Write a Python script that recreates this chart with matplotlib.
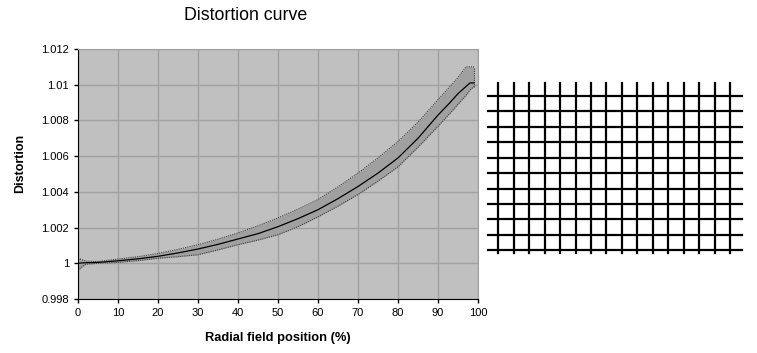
import numpy as np
import matplotlib.pyplot as plt

plt.rcParams['font.family'] = ['Liberation Sans', 'DejaVu Sans']

# Distortion curve data
radial_pos = [0, 1, 2, 5, 10, 15, 20, 25, 30, 35, 40, 45, 50, 55, 60, 65,
              70, 75, 80, 85, 90, 93, 95, 97, 98, 99]
distortion = [1.0000, 1.00002, 1.00003, 1.00005, 1.00014, 1.00025, 1.00039,
              1.00058, 1.0008, 1.00106, 1.00136, 1.00166, 1.00205, 1.0025,
              1.0030, 1.00362, 1.0043, 1.00505, 1.0059, 1.0070, 1.0083,
              1.0090, 1.0095, 1.0099, 1.0101, 1.0101]
upper = [1.0003, 1.0002, 1.00012, 1.0001, 1.00024, 1.00037, 1.00055, 1.00078,
         1.00104, 1.00135, 1.0017, 1.0021, 1.00254, 1.00303, 1.00357,
         1.00428, 1.00505, 1.0059, 1.00682, 1.0079, 1.00916, 1.0099, 1.0104,
         1.0110, 1.0110, 1.0110]
lower = [0.9996, 0.9998, 0.99995, 1.0000, 1.00005, 1.00015, 1.00028, 1.00037,
         1.00048, 1.00075, 1.00104, 1.0013, 1.0016, 1.00205, 1.0026,
         1.0032, 1.00385, 1.0046, 1.0054, 1.0065, 1.00767, 1.0084, 1.0089,
         1.0094, 1.0097, 1.0099]

x_ticks = [0, 10, 20, 30, 40, 50, 60, 70, 80, 90, 100]
y_ticks = [0.998, 1, 1.002, 1.004, 1.006, 1.008, 1.01, 1.012]

# test grid pattern on the right
grid_cols = 16
grid_rows = 11

fig = plt.figure(figsize=(7.57, 3.53), dpi=100)

ax = fig.add_axes([78/757, 54/353, 400/757, 250/353])
ax.set_facecolor('#c0c0c0')
ax.fill_between(radial_pos, lower, upper, color='#a0a0a0', lw=0)
ax.plot(radial_pos, upper, color='#404040', lw=0.8, ls=(0, (1, 1)))
ax.plot(radial_pos, lower, color='#404040', lw=0.8, ls=(0, (1, 1)))
ax.plot([radial_pos[-1], radial_pos[-1]], [lower[-1], upper[-1]],
        color='#404040', lw=0.8, ls=(0, (1, 1)))
ax.plot(radial_pos, distortion, color='black', lw=0.9)

ax.set_xlim(0, 100)
ax.set_ylim(0.998, 1.012)
ax.set_xticks(x_ticks)
ax.set_yticks(y_ticks)
ax.set_yticklabels([f'{v:g}' for v in y_ticks])
ax.grid(True, color='#a0a0a0', lw=1)
ax.set_axisbelow(True)
ax.tick_params(labelsize=8, length=3, width=1, direction='out')
for s in ['top', 'right']:
    ax.spines[s].set_color('#a0a0a0')
for s in ['left', 'bottom']:
    ax.spines[s].set_color('black')

ax.set_xlabel('Radial field position (%)', fontsize=9.3, fontweight='bold', labelpad=10)
ax.set_ylabel('Distortion', fontsize=9, fontweight='bold')
ax.yaxis.set_label_coords(-0.13, 0.544)
fig.text(246/757, 1 - 15/353, 'Distortion curve', fontsize=12.8,
         ha='center', va='center')

# grid pattern
ax2 = fig.add_axes([486/757, 97/353, 260/757, 176/353])
ax2.set_xlim(-0.796, 16.03)
ax2.set_ylim(10.37, -1.037)
for i in range(grid_cols):
    ax2.plot([i, i], [-0.84, grid_rows - 1 + 0.19], color='black', lw=1.6)
for j in range(grid_rows):
    ax2.plot([-0.67, grid_cols - 1 + 0.8], [j, j], color='black', lw=1.6)
ax2.axis('off')

plt.savefig('out.png', dpi=100)
